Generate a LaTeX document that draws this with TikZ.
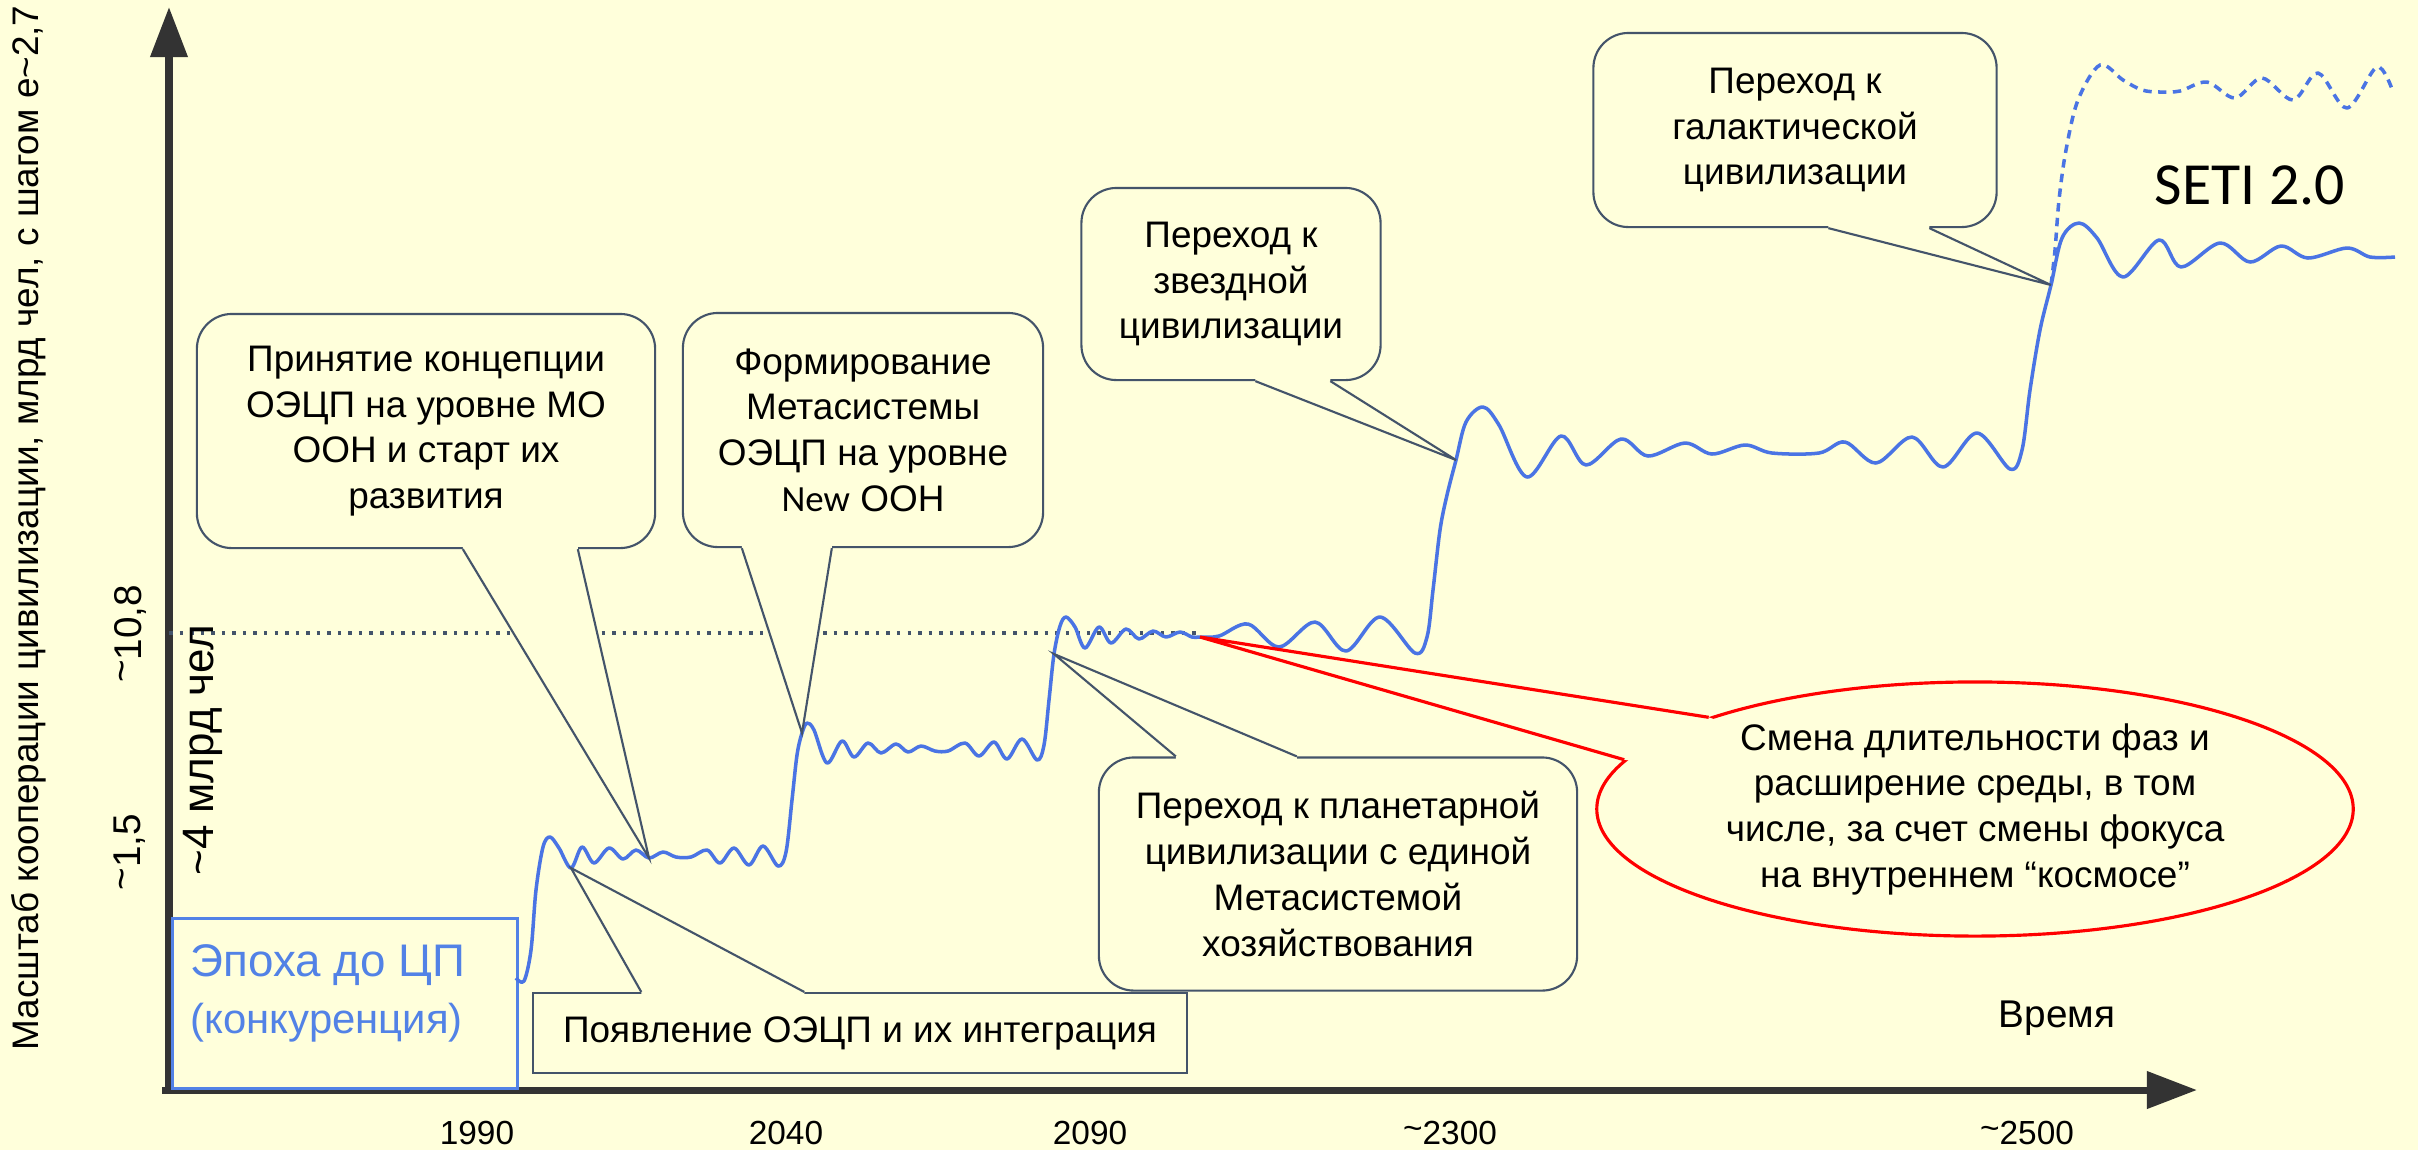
\documentclass[tikz,border=0pt]{standalone}
\usepackage{fontspec}
\setmainfont{Liberation Sans}
\newfontfamily\setifont{Carlito}
\usetikzlibrary{arrows.meta,calc,shapes.geometric}

\definecolor{bgc}{RGB}{255,255,219}
\definecolor{edgec}{RGB}{68,84,106}
\definecolor{curvec}{RGB}{74,116,228}
\definecolor{axisc}{RGB}{51,51,51}
\definecolor{epochc}{RGB}{82,130,230}

\newcommand{\bubfont}{\fontsize{10.5}{13}\selectfont}
\newcommand{\uptilde}{\raisebox{0.3ex}{\textasciitilde}}

\tikzset{
  axisline/.style={line width=0.07cm, draw=axisc, -{Triangle[length=0.5cm,width=0.36cm]}},
  bubble/.style={draw=edgec, line width=0.6pt, fill=bgc, rounded corners=0.35cm, align=center, font=\bubfont, inner sep=0pt},
  plainbox/.style={draw=edgec, line width=0.6pt, fill=bgc, font=\bubfont, inner sep=0pt},
  tailline/.style={draw=edgec, line width=0.6pt},
  growth/.style={draw=curvec, line width=1pt, line join=round},
  yearlabel/.style={font=\fontsize{9.5}{11}\selectfont},
  ticklabel/.style={rotate=90, font=\fontsize{11}{13}\selectfont},
}

\begin{document}
\begin{tikzpicture}[x=0.01cm, y=-0.01cm]

\fill[bgc] (0,0) rectangle (2418,1150);
\useasboundingbox (0,0) rectangle (2418,1150);

\draw[axisline] (162,1090) -- (2197,1090);
\draw[axisline] (169,1093) -- (169,7);
\draw[edgec, dotted, line width=1pt] (169,633) -- (1198,633);

\node[rotate=90, font=\bubfont] (ylabel) at (29,528) {Масштаб кооперации цивилизации, млрд чел, с шагом e\textasciitilde2,7};
\node[ticklabel] (tick108) at (130,634) {\uptilde10,8};
\node[ticklabel] (tick15) at (130,852) {\uptilde1,5};
\node[rotate=90, font=\fontsize{12.5}{14}\selectfont] (fourbn) at (203,750) {\textasciitilde4 млрд чел};

\node[yearlabel] (y1990) at (477,1133) {1990};
\node[yearlabel] (y2040) at (786,1133) {2040};
\node[yearlabel] (y2090) at (1090,1133) {2090};
\node[yearlabel] (y2300) at (1450,1133) {\uptilde2300};
\node[yearlabel] (y2500) at (2027,1133) {\uptilde2500};
\node[font=\fontsize{11}{13}\selectfont] (time) at (2057,1018) {Время};

\node[draw=epochc, line width=0.8pt, fill=bgc, minimum width=3.45cm, minimum height=1.70cm, anchor=north west, inner sep=0pt] (epoch) at (171,917) {};
\node[anchor=west, inner sep=0pt, text=epochc, font=\fontsize{13}{15}\selectfont] (epochname) at ($(epoch.north west)+(19,48)$) {Эпоха до ЦП};
\node[anchor=west, inner sep=0pt, text=epochc, font=\fontsize{11.9}{14}\selectfont] (epochsub) at ($(epoch.north west)+(19,106)$) {(конкуренция)};

\coordinate (tPo) at (571,868);
\coordinate (tPr) at (649,858);
\coordinate (tFo) at (802,733);
\coordinate (tPl) at (1054,654);
\coordinate (tRe) at (1200,637);
\coordinate (tSt) at (1456,460);
\coordinate (tGa) at (2051,285);

\draw[growth] plot[smooth, tension=0.55] coordinates {(516,978) (524,981) (531,950) (536,890) (543,847) (550,837) (559,848) (tPo) (582,847) (594,863) (609,848) (623,859) (636,850) (tPr) (663,852) (676,857) (691,857) (707,850) (720,863) (734,848) (749,865) (763,846) (778,866) (786,852) (792,800) (797,755) (tFo) (807,723) (814,730) (827,763) (842,741) (854,757) (868,743) (881,753) (896,744) (908,752) (921,746) (935,751) (948,751) (965,743) (979,756) (994,742) (1007,759) (1022,739) (1037,760) (1044,745) (1049,700) (tPl) (1060,626) (1066,617) (1075,627) (1085,648) (1099,627) (1111,643) (1126,629) (1139,639) (1153,631) (1166,637) (1180,632) (1192,637) (tRe) (1219,636) (1248,624) (1279,647) (1315,622) (1346,651) (1380,617) (1415,653) (1427,637) (1433,590) (1440,530) (1447,495) (tSt) (1466,422) (1483,407) (1499,425) (1527,477) (1561,436) (1586,465) (1621,439) (1648,456) (1685,443) (1712,454) (1745,445) (1772,453) (1819,453) (1845,442) (1876,463) (1912,437) (1943,467) (1977,433) (2010,469) (2022,450) (2030,390) (2040,330) (tGa) (2062,238) (2079,223) (2097,238) (2123,277) (2159,240) (2181,267) (2220,243) (2250,262) (2281,246) (2308,258) (2347,248) (2370,257) (2395,257)};
\draw[growth, dash pattern=on 2.4pt off 1.8pt] plot[smooth, tension=0.55] coordinates {(tGa) (2055,250) (2059,200) (2066,150) (2078,100) (2100,65) (2123,80) (2142,90) (2160,92) (2180,91) (2207,82) (2235,98) (2262,78) (2293,100) (2318,73) (2347,108) (2377,67) (2393,92)};

\node[font=\setifont\fontsize{17}{20}\selectfont] (seti) at (2250,185) {SETI 2.0};

\node[bubble, minimum width=4.58cm, minimum height=2.34cm] (accept) at (426,431) {Принятие концепции\\ОЭЦП на уровне МО\\ООН и старт их\\развития};
\fill[bgc] ($(accept.south west)+(267,-3)$) -- ($(accept.south west)+(267,0)$) -- (tPr) -- ($(accept.south west)+(382,0)$) -- ($(accept.south west)+(382,-3)$) -- cycle;
\draw[tailline] ($(accept.south west)+(267,0)$) -- (tPr) -- ($(accept.south west)+(382,0)$);

\node[bubble, minimum width=3.60cm, minimum height=2.34cm] (forming) at (863,430) {Формирование\\Метасистемы\\ОЭЦП на уровне\\{\setifont New} ООН};
\fill[bgc] ($(forming.south west)+(60,-3)$) -- ($(forming.south west)+(60,0)$) -- (tFo) -- ($(forming.south west)+(150,0)$) -- ($(forming.south west)+(150,-3)$) -- cycle;
\draw[tailline] ($(forming.south west)+(60,0)$) -- (tFo) -- ($(forming.south west)+(150,0)$);

\node[bubble, minimum width=2.99cm, minimum height=1.92cm] (stellar) at (1231,284) {Переход к\\звездной\\цивилизации};
\fill[bgc] ($(stellar.south west)+(175,-3)$) -- ($(stellar.south west)+(175,0)$) -- (tSt) -- ($(stellar.south west)+(250,0)$) -- ($(stellar.south west)+(250,-3)$) -- cycle;
\draw[tailline] ($(stellar.south west)+(175,0)$) -- (tSt) -- ($(stellar.south west)+(250,0)$);

\node[bubble, minimum width=4.03cm, minimum height=1.94cm] (galactic) at (1795,130) {Переход к\\галактической\\цивилизации};
\fill[bgc] ($(galactic.south west)+(236,-3)$) -- ($(galactic.south west)+(236,0)$) -- (tGa) -- ($(galactic.south west)+(337,0)$) -- ($(galactic.south west)+(337,-3)$) -- cycle;
\draw[tailline] ($(galactic.south west)+(236,0)$) -- (tGa) -- ($(galactic.south west)+(337,0)$);

\node[bubble, minimum width=4.78cm, minimum height=2.33cm] (planet) at (1338,874) {Переход к планетарной\\цивилизации с единой\\Метасистемой\\хозяйствования};
\fill[bgc] ($(planet.north west)+(78,3)$) -- ($(planet.north west)+(78,0)$) -- (tPl) -- ($(planet.north west)+(199,0)$) -- ($(planet.north west)+(199,3)$) -- cycle;
\draw[tailline] ($(planet.north west)+(78,0)$) -- (tPl) -- ($(planet.north west)+(199,0)$);

\node[plainbox, minimum width=6.53cm, minimum height=0.80cm] (appear) at (860,1033) {Появление ОЭЦП и их интеграция};
\fill[bgc] ($(appear.north west)+(109,3)$) -- ($(appear.north west)+(109,0)$) -- (tPo) -- ($(appear.north west)+(272,0)$) -- ($(appear.north west)+(272,3)$) -- cycle;
\draw[tailline] ($(appear.north west)+(109,0)$) -- (tPo) -- ($(appear.north west)+(272,0)$);

\node[ellipse, draw=red, line width=0.9pt, fill=bgc, minimum width=7.56cm, minimum height=2.54cm, inner sep=0pt, align=center, font=\bubfont] (phase) at (1975,809) {Смена длительности фаз и\\расширение среды, в том\\числе, за счет смены фокуса\\на внутреннем “космосе”};
\fill[bgc] (phase.161.8) -- (tRe) -- (phase.172.2) -- ($(phase.172.2)!0.05!(phase.center)$) -- ($(phase.161.8)!0.05!(phase.center)$) -- cycle;
\draw[red, line width=0.9pt, line join=miter] (phase.161.8) -- (tRe) -- (phase.172.2);

\end{tikzpicture}
\end{document}
